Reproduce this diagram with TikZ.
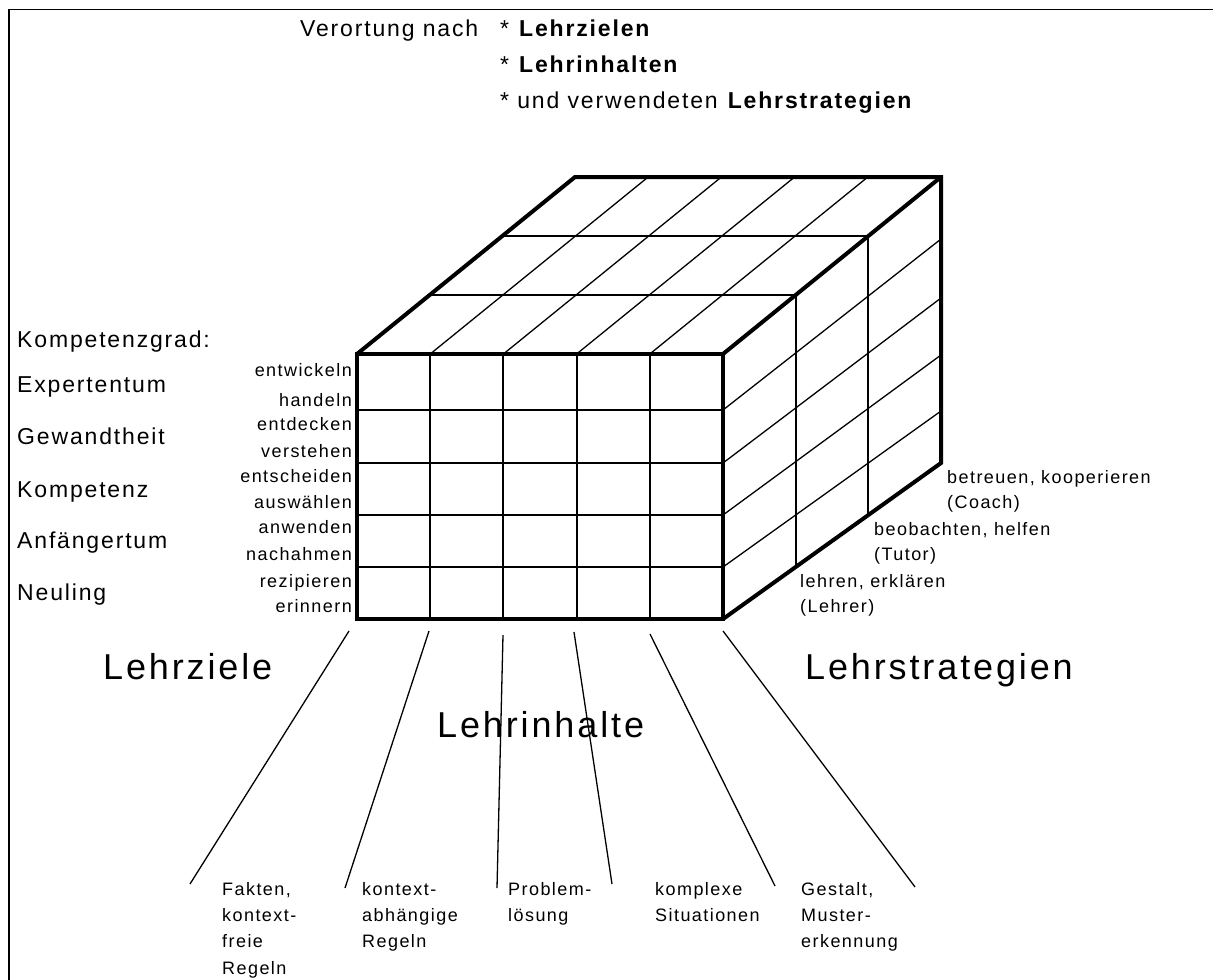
\documentclass[tikz,border=0pt]{standalone}
\usepackage{fontspec}
\setmainfont[LetterSpace=8]{Liberation Sans}
\usetikzlibrary{calc}
\begin{document}
\begin{tikzpicture}[x=1pt,y=-1pt,
  txt/.style={inner sep=0pt, anchor=base west},
  rtxt/.style={inner sep=0pt, anchor=base east},
  huge/.style={font=\fontsize{36}{40}\selectfont},
  mid/.style={font=\fontsize{23}{27}\selectfont},
  small/.style={font=\fontsize{18}{22}\selectfont},
  thickedge/.style={line width=4pt, line join=miter},
  gridline/.style={line width=2pt},
  hairline/.style={line width=1.3pt},
  fanline/.style={line width=1.3pt}]
\useasboundingbox (0,0) rectangle (1213,980);

% frame
\draw[line width=1.6pt] (8.7,980) -- (8.7,9.5) -- (1213,9.5);

% heading
\node[txt, mid] (vn) at (300,36) {Verortung nach};
\node[txt, mid] (h1) at (500,36) {* \textbf{Lehrzielen}};
\node[txt, mid] (h2) at (500,72) {* \textbf{Lehrinhalten}};
\node[txt, mid] (h3) at (500,108) {* und verwendeten \textbf{Lehrstrategien}};

% cube corners
\coordinate (FTL) at (357,354);
\coordinate (FTR) at (723,354);
\coordinate (FBL) at (357,619);
\coordinate (FBR) at (723,619);
\coordinate (BTL) at (575,177);
\coordinate (BTR) at (941,177);
\coordinate (BBR) at (941,463);

% front face grid
\foreach \x in {430.2,503.4,576.6,649.8}
  \draw[gridline] (\x,354) -- (\x,619);
\foreach \y in {410,463,515,567}
  \draw[gridline] (357,\y) -- (723,\y);

% top face grid
\foreach \i in {1,2,3,4}
  \draw[hairline] ($(FTL)!\i/5!(FTR)$) -- ($(BTL)!\i/5!(BTR)$);
\foreach \j in {1,2}
  \draw[gridline] ($(FTL)!\j/3!(BTL)$) -- ($(FTR)!\j/3!(BTR)$);

% right face grid
\foreach \j in {1,2}
  \draw[gridline] ($(FTR)!\j/3!(BTR)$) -- ($(FBR)!\j/3!(BBR)$);
\foreach \fy/\by in {410/239,463/298,515/355,567/411}
  \draw[hairline] (723,\fy) -- (941,\by);

% outer edges
\draw[thickedge] (FTL) rectangle (FBR);
\draw[thickedge] (FTL) -- (BTL) -- (BTR) -- (BBR) -- (FBR);
\draw[thickedge] (FTR) -- (BTR);

% competence levels
\node[txt, mid] (kg) at (17,347) {Kompetenzgrad:};
\node[txt, mid] (k5) at (17,392) {Expertentum};
\node[txt, mid] (k4) at (17,444) {Gewandtheit};
\node[txt, mid] (k3) at (17,497) {Kompetenz};
\node[txt, mid] (k2) at (17,548) {Anfängertum};
\node[txt, mid] (k1) at (17,600) {Neuling};

% learning goals per row
\node[rtxt, small] (g10) at (352,376) {entwickeln};
\node[rtxt, small] (g9) at (352,406) {handeln};
\node[rtxt, small] (g8) at (352,430) {entdecken};
\node[rtxt, small] (g7) at (352,457) {verstehen};
\node[rtxt, small] (g6) at (352,482) {entscheiden};
\node[rtxt, small] (g5) at (352,508) {auswählen};
\node[rtxt, small] (g4) at (352,533) {anwenden};
\node[rtxt, small] (g3) at (352,560) {nachahmen};
\node[rtxt, small] (g2) at (352,587) {rezipieren};
\node[rtxt, small] (g1) at (352,612) {erinnern};

% teaching strategies
\node[txt, small] (s3a) at (947,483) {betreuen, kooperieren};
\node[txt, small] (s3b) at (947,508) {(Coach)};
\node[txt, small] (s2a) at (874,535) {beobachten, helfen};
\node[txt, small] (s2b) at (874,560) {(Tutor)};
\node[txt, small] (s1a) at (800,587) {lehren, erklären};
\node[txt, small] (s1b) at (800,612) {(Lehrer)};

% axis titles
\node[txt, huge] (axz) at (103,679) {Lehrziele};
\node[txt, huge] (axi) at (437,737) {Lehrinhalte};
\node[txt, huge] (axs) at (805,679) {Lehrstrategien};

% fan lines to the content categories
\coordinate (t1) at (349,631); \coordinate (b1) at (190,884);
\coordinate (t2) at (429,631); \coordinate (b2) at (345,888);
\coordinate (t3) at (503,635); \coordinate (b3) at (497,888);
\coordinate (t4) at (574,632); \coordinate (b4) at (612,884);
\coordinate (t5) at (650,634); \coordinate (b5) at (775,886);
\coordinate (t6) at (723,631); \coordinate (b6) at (915,887);
\foreach \k in {1,...,6}
  \draw[fanline] (t\k) -- (b\k);

% content categories
\node[txt, small, align=left] (c1) at (222,895) {Fakten,};
\node[txt, small] (c1b) at (222,921) {kontext-};
\node[txt, small] (c1c) at (222,947) {freie};
\node[txt, small] (c1d) at (222,974) {Regeln};
\node[txt, small] (c2) at (362,895) {kontext-};
\node[txt, small] (c2b) at (362,921) {abhängige};
\node[txt, small] (c2c) at (362,947) {Regeln};
\node[txt, small] (c3) at (508,895) {Problem-};
\node[txt, small] (c3b) at (508,921) {lösung};
\node[txt, small] (c4) at (655,895) {komplexe};
\node[txt, small] (c4b) at (655,921) {Situationen};
\node[txt, small] (c5) at (801,895) {Gestalt,};
\node[txt, small] (c5b) at (801,921) {Muster-};
\node[txt, small] (c5c) at (801,947) {erkennung};
\end{tikzpicture}
\end{document}
